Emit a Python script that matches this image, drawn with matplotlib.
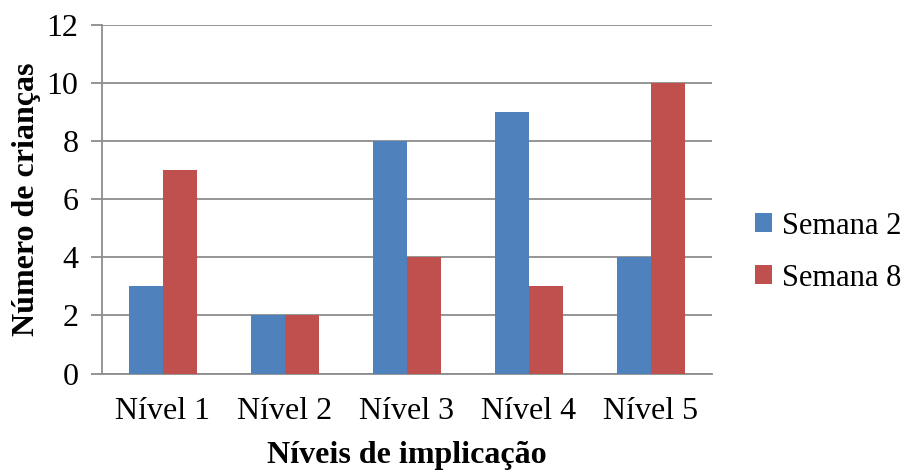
import numpy as np
import matplotlib.pyplot as plt

niveis = ['Nível 1', 'Nível 2', 'Nível 3', 'Nível 4', 'Nível 5']
semana_2 = [3, 2, 8, 9, 4]
semana_8 = [7, 2, 4, 3, 10]

plt.rcParams['font.family'] = ['Liberation Serif', 'DejaVu Serif']

fig = plt.figure(figsize=(9.05, 4.74), dpi=100)
ax = fig.add_axes([0.1127, 0.212, 0.6737, 0.7363])

x = np.arange(len(niveis))
w = 0.28
ax.bar(x - w / 2, semana_2, w, color='#4F81BD', label='Semana 2', zorder=3)
ax.bar(x + w / 2, semana_8, w, color='#C0504D', label='Semana 8', zorder=3)

ax.set_xlim(-0.5, len(niveis) - 0.5)
ax.set_ylim(0, 12)
ax.set_yticks(range(0, 13, 2))
ax.set_xticks(x)
ax.set_xticklabels(niveis)

grid_c = '#8C8C8C'
ax.yaxis.grid(True, color=grid_c, linewidth=1.3, zorder=0)
for s in ['top', 'right']:
    ax.spines[s].set_visible(False)
for s in ['left', 'bottom']:
    ax.spines[s].set_color(grid_c)
    ax.spines[s].set_linewidth(1.3)
ax.tick_params(axis='y', length=8, width=1.3, color=grid_c, pad=9, labelsize=23)
ax.tick_params(axis='x', length=0, pad=17, labelsize=23)

ax.set_xlabel('Níveis de implicação', fontsize=23, fontweight='bold', labelpad=11)
ax.set_ylabel('Número de crianças', fontsize=23, fontweight='bold', labelpad=4)

fig.legend(loc='center left', bbox_to_anchor=(0.834, 0.468), frameon=False,
           fontsize=22, handlelength=0.58, handleheight=0.58, handletextpad=0.3,
           labelspacing=0.75, borderaxespad=0, borderpad=0)

fig.savefig('out.png', dpi=100)
